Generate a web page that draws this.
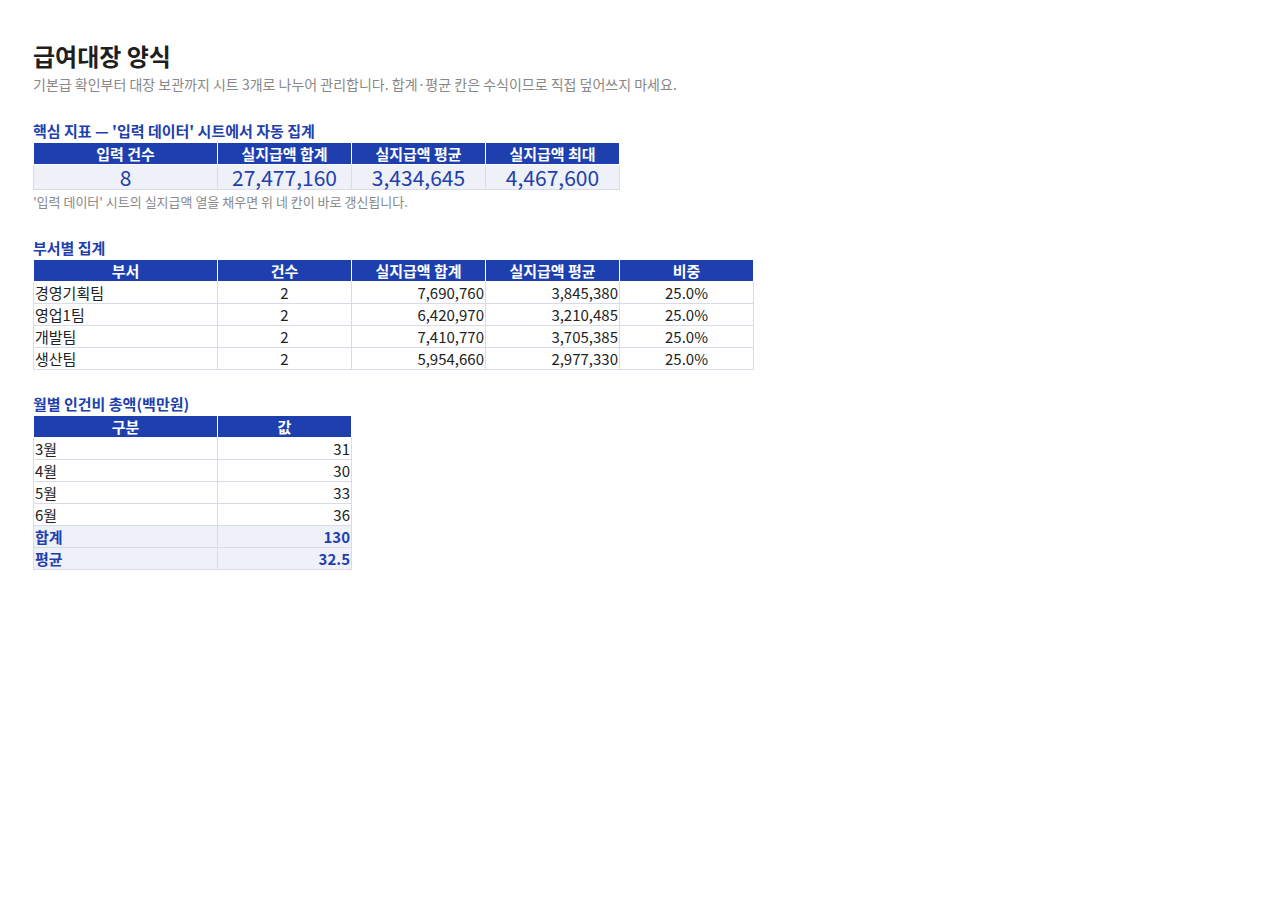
<!DOCTYPE html>
<html><head><meta charset="utf-8">
<script src="https://cdn.jsdelivr.net/npm/chart.js@4"></script>
<style>
body{margin:0;background:#fff;font-family:"Noto Sans CJK KR","Noto Sans",sans-serif;color:#222;}
#page{position:absolute;left:33px;top:38px;}
h1{font-size:24px;font-weight:700;margin:0;line-height:36px;color:#1f1f1f}
.sub{font-size:14px;color:#888;margin:0;line-height:20px}
h2{font-size:15px;font-weight:700;color:#1E3FAE;margin:0;line-height:22px}
table{border-collapse:collapse;table-layout:fixed}
td,th{border:1px solid #D9DCE6;padding:0 1px;font-size:15px;height:21px;line-height:21px;white-space:nowrap}
th{background:#1E3FAE;color:#fff;font-weight:700;border-color:#fff;text-align:center}
.kpi td{background:#EEF1F8;color:#1E3FAE;font-size:21px;text-align:center;height:24px;line-height:24px}
.r{text-align:right}.c{text-align:center}
.tot td{background:#EEF1F8;color:#1E3FAE;font-weight:700}
.note{font-size:13px;color:#888;line-height:20px;margin:2px 0 0}
</style></head><body>
<div id="page">
<h1>급여대장 양식</h1>
<p class="sub">기본급 확인부터 대장 보관까지 시트 3개로 나누어 관리합니다. 합계·평균 칸은 수식이므로 직접 덮어쓰지 마세요.</p>
<h2 style="margin-top:26px">핵심 지표 — '입력 데이터' 시트에서 자동 집계</h2>
<table id="t1"></table>
<p class="note">'입력 데이터' 시트의 실지급액 열을 채우면 위 네 칸이 바로 갱신됩니다.</p>
<h2 style="margin-top:25px">부서별 집계</h2>
<table id="t2"></table>
<h2 style="margin-top:23px">월별 인건비 총액(백만원)</h2>
<table id="t3"></table>
</div>
<script>
const kpiLabels = ['입력 건수','실지급액 합계','실지급액 평균','실지급액 최대'];
const kpiValues = [8, 27477160, 3434645, 4467600];
const deptHeaders = ['부서','건수','실지급액 합계','실지급액 평균','비중'];
const depts = ['경영기획팀','영업1팀','개발팀','생산팀'];
const deptCounts = [2,2,2,2];
const deptSums = [7690760,6420970,7410770,5954660];
const deptAvgs = [3845380,3210485,3705385,2977330];
const deptShares = ['25.0%','25.0%','25.0%','25.0%'];
const months = ['3월','4월','5월','6월'];
const monthValues = [31,30,33,36];

const fmt = n => n.toLocaleString('en-US');
const cols = w => '<colgroup>' + w.map(x => `<col style="width:${x}px">`).join('') + '</colgroup>';

document.getElementById('t1').innerHTML = cols([184,134,134,134]) +
  '<tr>' + kpiLabels.map(l => `<th>${l}</th>`).join('') + '</tr>' +
  '<tr class="kpi">' + kpiValues.map(v => `<td>${fmt(v)}</td>`).join('') + '</tr>';

document.getElementById('t2').innerHTML = cols([184,134,134,134,134]) +
  '<tr>' + deptHeaders.map(l => `<th>${l}</th>`).join('') + '</tr>' +
  depts.map((d,i) => `<tr><td>${d}</td><td class="c">${deptCounts[i]}</td><td class="r">${fmt(deptSums[i])}</td><td class="r">${fmt(deptAvgs[i])}</td><td class="c">${deptShares[i]}</td></tr>`).join('');

const total = monthValues.reduce((a,b) => a+b, 0);
document.getElementById('t3').innerHTML = cols([184,134]) +
  '<tr><th>구분</th><th>값</th></tr>' +
  months.map((m,i) => `<tr><td>${m}</td><td class="r">${monthValues[i]}</td></tr>`).join('') +
  `<tr class="tot"><td>합계</td><td class="r">${total}</td></tr>` +
  `<tr class="tot"><td>평균</td><td class="r">${total/monthValues.length}</td></tr>`;
</script>
</body></html>
